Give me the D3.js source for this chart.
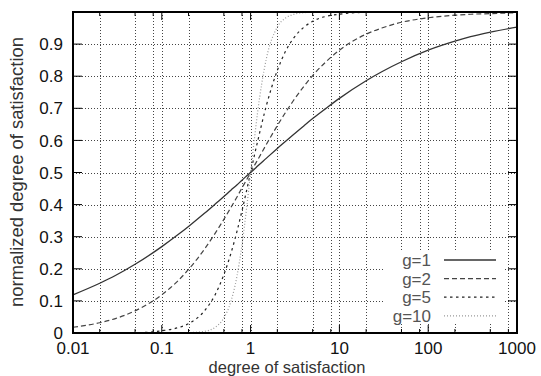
<!DOCTYPE html>
<html>
<head>
<meta charset="utf-8">
<script src="https://cdn.jsdelivr.net/npm/d3@7"></script>
<style>
  body { margin: 0; background: #fff; }
  text { font-family: "Liberation Sans", Arial, Helvetica, sans-serif; }
</style>
</head>
<body>
<div id="chart"></div>
<script>
// values
const satisfaction = [0.01, 0.02, 0.03, 0.05, 0.1, 0.15, 0.2, 0.3, 0.4, 0.5, 0.6, 0.7, 0.8, 0.9, 1, 1.1, 1.2, 1.5, 2, 2.5, 3, 4, 5, 7, 10, 20, 30, 50, 100, 200, 300, 500, 1000];
const g1 = [0.119, 0.155, 0.179, 0.214, 0.269, 0.305, 0.332, 0.372, 0.402, 0.425, 0.445, 0.461, 0.476, 0.489, 0.5, 0.510, 0.520, 0.544, 0.575, 0.598, 0.617, 0.646, 0.668, 0.699, 0.731, 0.786, 0.814, 0.845, 0.881, 0.909, 0.923, 0.937, 0.953];
const g2 = [0.018, 0.032, 0.045, 0.069, 0.119, 0.161, 0.198, 0.260, 0.311, 0.354, 0.391, 0.423, 0.452, 0.477, 0.5, 0.521, 0.539, 0.587, 0.646, 0.689, 0.722, 0.769, 0.802, 0.844, 0.881, 0.931, 0.950, 0.968, 0.982, 0.990, 0.993, 0.995, 0.998];
const g5 = [0, 0, 0.001, 0.001, 0.007, 0.016, 0.029, 0.068, 0.120, 0.182, 0.248, 0.315, 0.381, 0.443, 0.5, 0.552, 0.597, 0.707, 0.818, 0.880, 0.916, 0.953, 0.971, 0.986, 0.993, 0.999, 0.999, 1, 1, 1, 1, 1, 1];
const g10 = [0, 0, 0, 0, 0, 0, 0.001, 0.005, 0.018, 0.047, 0.098, 0.175, 0.275, 0.387, 0.5, 0.601, 0.688, 0.853, 0.953, 0.982, 0.992, 0.998, 0.999, 1, 1, 1, 1, 1, 1, 1, 1, 1, 1];
const seriesNames = ["g=1", "g=2", "g=5", "g=10"];

const xMajorTicks = [0.01, 0.1, 1, 10, 100, 1000];
const xTickLabels = ["0.01", "0.1", "1", "10", "100", "1000"];
const xMinorTicks = [0.02, 0.05, 0.08, 0.2, 0.5, 0.8, 2, 5, 8, 20, 50, 80, 200, 500, 800];
const yTicks = [0, 0.1, 0.2, 0.3, 0.4, 0.5, 0.6, 0.7, 0.8, 0.9];
const yTickLabels = ["0", "0.1", "0.2", "0.3", "0.4", "0.5", "0.6", "0.7", "0.8", "0.9"];

const W = 541, H = 376;
const margin = { top: 12, right: 24, bottom: 43, left: 73 },
    width = W - margin.left - margin.right,
    height = H - margin.top - margin.bottom;

const svg = d3.select("#chart")
    .append("svg")
    .attr("width", W)
    .attr("height", H)
    .append("g")
    .attr("transform", `translate(${margin.left},${margin.top})`);

const x = d3.scaleLog().domain([0.01, 1000]).range([0, width]);
const y = d3.scaleLinear().domain([0, 1]).range([height, 0]);

// grid
const grid = svg.append("g")
    .attr("stroke", "#444")
    .attr("stroke-width", 1)
    .attr("stroke-dasharray", "1,2");

grid.selectAll(".vg")
    .data(xMajorTicks.concat(xMinorTicks).filter(d => d > 0.01 && d < 1000))
    .join("line")
    .attr("x1", d => Math.round(x(d)) + 0.5)
    .attr("x2", d => Math.round(x(d)) + 0.5)
    .attr("y1", 0)
    .attr("y2", height);

grid.selectAll(".hg")
    .data(yTicks.filter(d => d > 0))
    .join("line")
    .attr("x1", 0)
    .attr("x2", width)
    .attr("y1", d => Math.round(y(d)) + 0.5)
    .attr("y2", d => Math.round(y(d)) + 0.5);

// curves
const styles = [
    { data: g1, color: "#333", dash: null, w: 1.3 },
    { data: g2, color: "#444", dash: "5,3", w: 1.2 },
    { data: g5, color: "#222", dash: "2.5,3.5", w: 1.2 },
    { data: g10, color: "#999", dash: "1,2", w: 1.2 }
];

const line = d3.line()
    .x(d => x(d[0]))
    .y(d => y(d[1]))
    .curve(d3.curveMonotoneX);

styles.forEach(s => {
    svg.append("path")
        .datum(satisfaction.map((v, i) => [v, s.data[i]]))
        .attr("fill", "none")
        .attr("stroke", s.color)
        .attr("stroke-width", s.w)
        .attr("stroke-dasharray", s.dash)
        .attr("d", line);
});

// ticks (inward, all four sides)
const ticks = svg.append("g").attr("stroke", "#000").attr("stroke-width", 1);
yTicks.forEach(t => {
    ticks.append("line").attr("x1", 0).attr("x2", 9).attr("y1", y(t)).attr("y2", y(t));
    ticks.append("line").attr("x1", width).attr("x2", width - 9).attr("y1", y(t)).attr("y2", y(t));
});
xMajorTicks.forEach(t => {
    ticks.append("line").attr("x1", x(t)).attr("x2", x(t)).attr("y1", height).attr("y2", height - 8);
    ticks.append("line").attr("x1", x(t)).attr("x2", x(t)).attr("y1", 0).attr("y2", 8);
});
xMinorTicks.forEach(t => {
    ticks.append("line").attr("x1", x(t)).attr("x2", x(t)).attr("y1", height).attr("y2", height - 4);
    ticks.append("line").attr("x1", x(t)).attr("x2", x(t)).attr("y1", 0).attr("y2", 4);
});

// border
svg.append("rect")
    .attr("width", width)
    .attr("height", height)
    .attr("fill", "none")
    .attr("stroke", "#000")
    .attr("stroke-width", 2);

// tick labels
svg.append("g")
    .selectAll("text")
    .data(yTicks)
    .join("text")
    .attr("x", -10)
    .attr("y", d => y(d))
    .attr("dy", "0.36em")
    .attr("text-anchor", "end")
    .style("font-size", "17px")
    .attr("fill", "#111")
    .text((d, i) => yTickLabels[i]);

svg.append("g")
    .selectAll("text")
    .data(xMajorTicks)
    .join("text")
    .attr("x", d => x(d))
    .attr("y", height + 21)
    .attr("text-anchor", "middle")
    .style("font-size", "17px")
    .attr("fill", "#111")
    .text((d, i) => xTickLabels[i]);

// axis labels
svg.append("text")
    .attr("x", 287 - margin.left)
    .attr("y", height + 40)
    .attr("text-anchor", "middle")
    .style("font-size", "16.5px")
    .attr("fill", "#333")
    .text("degree of satisfaction");

svg.append("text")
    .attr("transform", `translate(${23 - margin.left},${172 - margin.top}) rotate(-90)`)
    .attr("text-anchor", "middle")
    .style("font-size", "18.4px")
    .attr("fill", "#333")
    .text("normalized degree of satisfaction");

// legend
const legend = svg.append("g")
    .attr("transform", `translate(${384 - margin.left},${251 - margin.top})`);

legend.append("rect")
    .attr("width", 121)
    .attr("height", 72)
    .attr("fill", "#fff");

styles.forEach((s, i) => {
    const ly = 9 + i * 18.6;
    legend.append("text")
        .attr("x", 47)
        .attr("y", ly)
        .attr("dy", "0.36em")
        .attr("text-anchor", "end")
        .style("font-size", "17px")
        .attr("fill", "#555")
        .text(seriesNames[i]);
    legend.append("line")
        .attr("x1", 60)
        .attr("x2", 112)
        .attr("y1", ly)
        .attr("y2", ly)
        .attr("stroke", s.color)
        .attr("stroke-width", s.w)
        .attr("stroke-dasharray", s.dash);
});
</script>
</body>
</html>
